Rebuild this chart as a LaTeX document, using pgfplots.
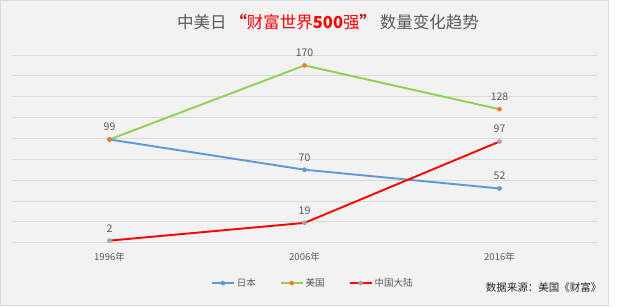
\documentclass[border=0pt]{standalone}
\usepackage{pgfplots}
\pgfplotsset{compat=1.18}
\usepackage{fontspec}
\setmainfont{Noto Sans CJK SC}
\definecolor{bgc}{HTML}{F2F2F2}
\definecolor{gridc}{HTML}{D9D9D9}
\definecolor{txtc}{HTML}{595959}
\definecolor{jpc}{HTML}{5B9BD5}
\definecolor{usc}{HTML}{92D050}
\definecolor{usm}{HTML}{ED7D31}
\definecolor{cnm}{HTML}{A5A5A5}
\begin{document}
\begin{tikzpicture}[x=1bp,y=1bp]
\useasboundingbox (0,0) rectangle (640,306);
\fill[bgc] (0,0) rectangle (608,306);
\draw[gridc,line width=0.8bp] (0.4,0.4) rectangle (608,305.6);
\node[font=\fontsize{16.5bp}{18bp}\selectfont,text=txtc] at (328,284)
  {中美日 {\bfseries\color{red!75!black}“}{\color{red}财富世界{\bfseries 500}强}{\bfseries\color{red!75!black}”} 数量变化趋势};
\begin{axis}[
  at={(12bp,63.3bp)}, anchor=south west,
  scale only axis, width=585bp, height=187.7bp,
  xmin=-0.5, xmax=2.5, ymin=0, ymax=180,
  axis line style={draw=none},
  ytick={0,20,...,180}, yticklabels={},
  ymajorgrids, grid style={gridc,line width=0.9bp},
  major tick length=0pt,
  xtick={0,1,2}, xticklabels={1996年,2006年,2016年},
  xticklabel style={font=\fontsize{9.5bp}{11bp}\selectfont,text=txtc,yshift=-6bp},
  point meta=explicit symbolic,
  nodes near coords,
  nodes near coords style={font=\fontsize{10.5bp}{12bp}\selectfont,text=txtc,yshift=5bp},
  legend columns=3,
  legend style={at={(0.514,-0.215)},anchor=center,draw=none,fill=none,
    font=\fontsize{9.5bp}{11bp}\selectfont,text=txtc,
    /tikz/every even column/.append style={column sep=22bp}},
  legend image code/.code={
    \draw[#1] (0bp,0bp) -- (22bp,0bp);
    \draw[#1,only marks] plot coordinates {(11bp,0bp)};
  },
  clip=false,
]
\addplot[jpc,line width=1.9bp,mark=*,mark size=2.1bp,mark options={solid,line width=0.4bp,fill=jpc,draw=jpc}]
  coordinates {(0,99) [99] (1,70) [70] (2,52) [52]};
\addlegendentry{日本}
\addplot[usc,line width=1.9bp,mark=*,mark size=2.1bp,mark options={solid,line width=0.4bp,fill=usm,draw=usm}]
  coordinates {(0,99) [{}] (1,170) [170] (2,128) [128]};
\addlegendentry{美国}
\addplot[red,line width=1.9bp,mark=*,mark size=2.1bp,mark options={solid,line width=0.4bp,fill=cnm,draw=cnm}]
  coordinates {(0,2) [2] (1,19) [19] (2,97) [97]};
\addlegendentry{中国大陆}
\end{axis}
\node[font=\fontsize{10.5bp}{12bp}\selectfont,text=black!85,anchor=east] at (605,19) {数据来源：美国《财富》};
\end{tikzpicture}
\end{document}
